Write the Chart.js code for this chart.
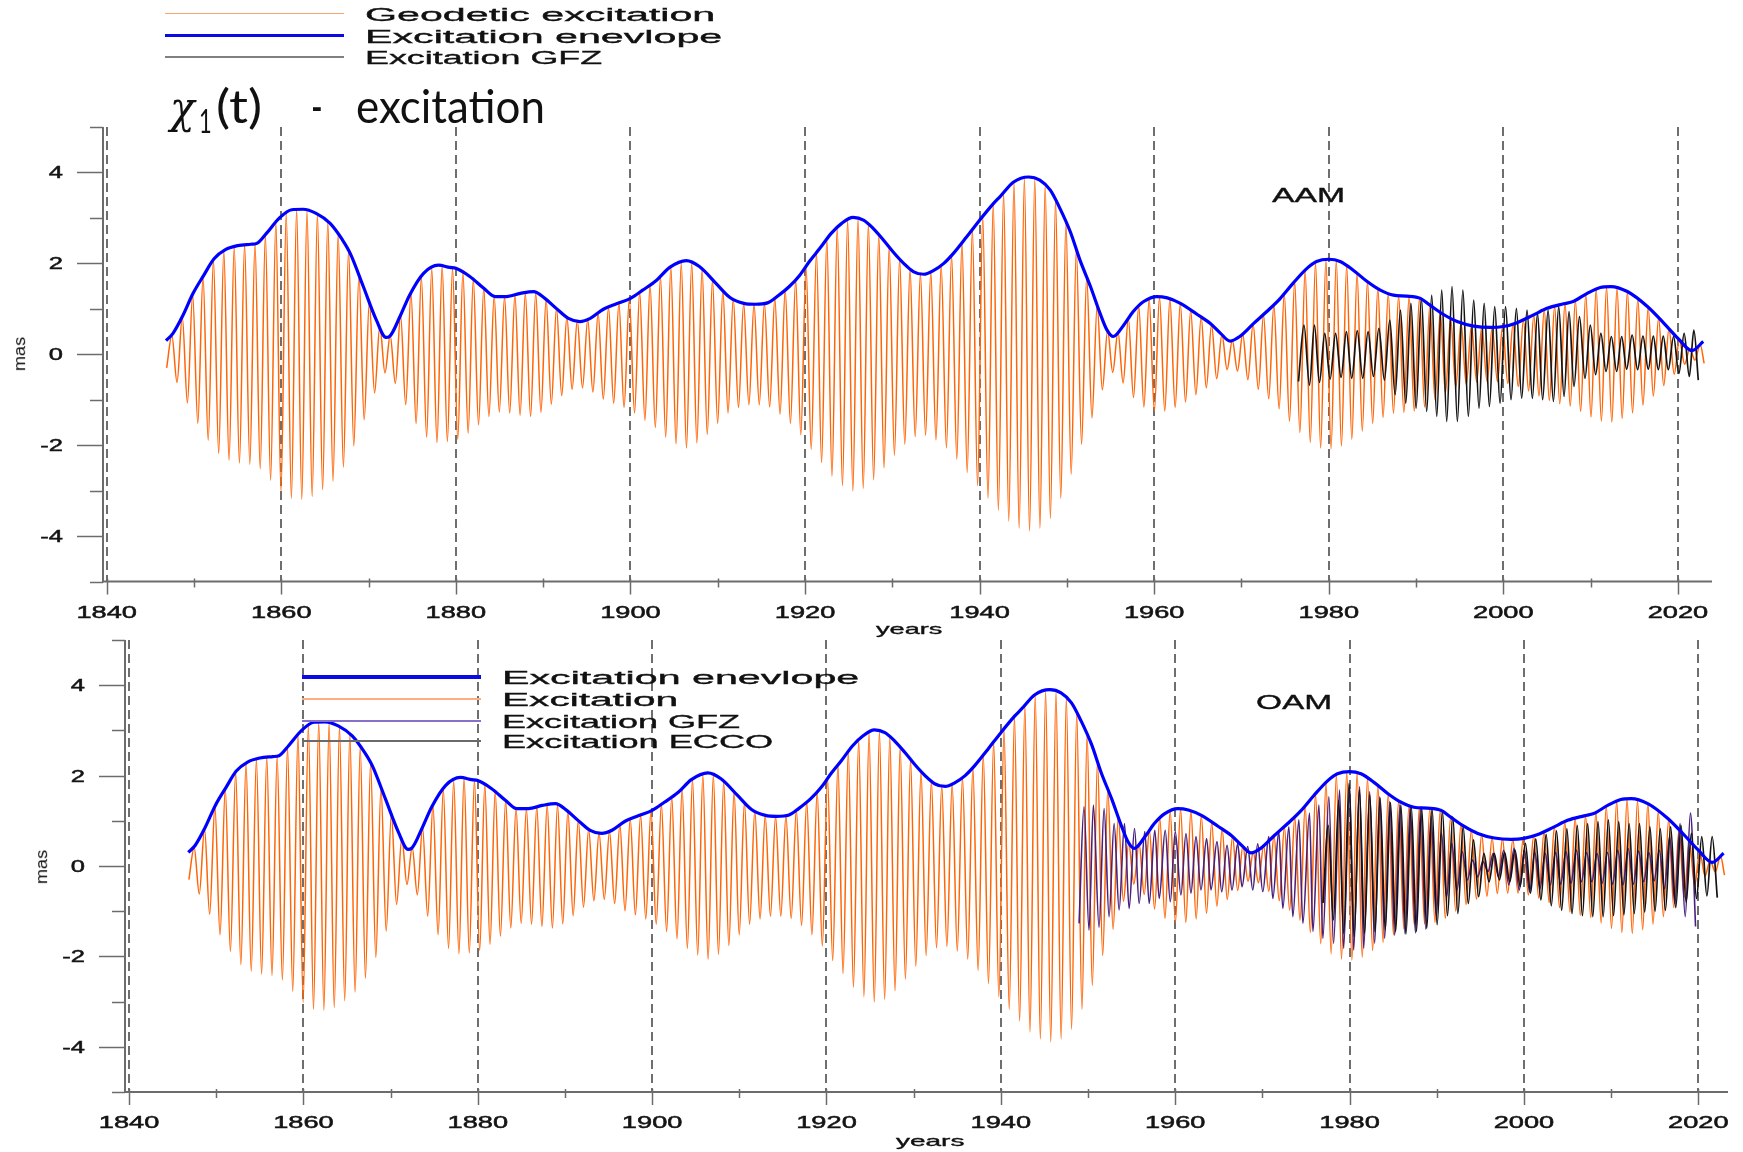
<!DOCTYPE html>
<html><head><meta charset="utf-8">
<script src="https://cdn.jsdelivr.net/npm/chart.js@4.4.1/dist/chart.umd.min.js"></script>
<style>
html,body{margin:0;padding:0;background:#fff;}
body{width:1743px;height:1152px;position:relative;overflow:hidden;font-family:"Liberation Sans",Arial,sans-serif;}
canvas{position:absolute;left:0;top:0;}
.t{position:absolute;white-space:pre;line-height:1;color:#111;}
.w{-webkit-text-stroke:0.35px #111;}
.ln{position:absolute;}
</style></head><body>
<canvas id="cTop" width="1743" height="1152"></canvas>
<canvas id="cBot" width="1743" height="1152"></canvas>
<script>
// ---------------- DATA ----------------
const xTickValues = [1840,1860,1880,1900,1920,1940,1960,1980,2000,2020];
const xMinorTickValues = [1850,1870,1890,1910,1930,1950,1970,1990,2010];
const yTickValues = [-4,-2,0,2,4];
const yMinorTickValues = [-5,-3,-1,1,3,5];

// geodetic excitation: successive extrema (same series in both panels)
const geoYears = [1846.87,1847.47,1848.06,1848.66,1849.25,1849.85,1850.44,1851.04,1851.63,1852.23,
1852.83,1853.42,1854.02,1854.61,1855.21,1855.80,1856.40,1856.99,1857.59,1858.18,
1858.78,1859.38,1859.97,1860.57,1861.16,1861.76,1862.35,1862.95,1863.54,1864.14,
1864.74,1865.33,1865.93,1866.52,1867.12,1867.71,1868.31,1868.90,1869.50,1870.09,
1870.69,1871.29,1871.88,1872.48,1873.07,1873.67,1874.26,1874.86,1875.45,1876.05,
1876.65,1877.24,1877.84,1878.43,1879.03,1879.62,1880.22,1880.81,1881.41,1882.00,
1882.60,1883.20,1883.79,1884.39,1884.98,1885.58,1886.17,1886.77,1887.36,1887.96,
1888.56,1889.15,1889.75,1890.34,1890.94,1891.53,1892.13,1892.72,1893.32,1893.91,
1894.51,1895.11,1895.70,1896.30,1896.89,1897.49,1898.08,1898.68,1899.27,1899.87,
1900.47,1901.06,1901.66,1902.25,1902.85,1903.44,1904.04,1904.63,1905.23,1905.82,
1906.42,1907.02,1907.61,1908.21,1908.80,1909.40,1909.99,1910.59,1911.18,1911.78,
1912.38,1912.97,1913.57,1914.16,1914.76,1915.35,1915.95,1916.54,1917.14,1917.73,
1918.33,1918.93,1919.52,1920.12,1920.71,1921.31,1921.90,1922.50,1923.09,1923.69,
1924.29,1924.88,1925.48,1926.07,1926.67,1927.26,1927.86,1928.45,1929.05,1929.64,
1930.24,1930.84,1931.43,1932.03,1932.62,1933.22,1933.81,1934.41,1935.00,1935.60,
1936.20,1936.79,1937.39,1937.98,1938.58,1939.17,1939.77,1940.36,1940.96,1941.56,
1942.15,1942.75,1943.34,1943.94,1944.53,1945.13,1945.72,1946.32,1946.91,1947.51,
1948.11,1948.70,1949.30,1949.89,1950.49,1951.08,1951.68,1952.27,1952.87,1953.47,
1954.06,1954.66,1955.25,1955.85,1956.44,1957.04,1957.63,1958.23,1958.82,1959.42,
1960.02,1960.61,1961.21,1961.80,1962.40,1962.99,1963.59,1964.18,1964.78,1965.38,
1965.97,1966.57,1967.16,1967.76,1968.35,1968.95,1969.54,1970.14,1970.73,1971.33,
1971.93,1972.52,1973.12,1973.71,1974.31,1974.90,1975.50,1976.09,1976.69,1977.29,
1977.88,1978.48,1979.07,1979.67,1980.26,1980.86,1981.45,1982.05,1982.64,1983.24,
1983.84,1984.43,1985.03,1985.62,1986.22,1986.81,1987.41,1988.00,1988.60,1989.20,
1989.79,1990.39,1990.98,1991.58,1992.17,1992.77,1993.36,1993.96,1994.55,1995.15,
1995.75,1996.34,1996.94,1997.53,1998.13,1998.72,1999.32,1999.91,2000.51,2001.11,
2001.70,2002.30,2002.89,2003.49,2004.08,2004.68,2005.27,2005.87,2006.46,2007.06,
2007.66,2008.25,2008.85,2009.44,2010.04,2010.63,2011.23,2011.82,2012.42,2013.02,
2013.61,2014.21,2014.80,2015.40,2015.99,2016.59,2017.18,2017.78,2018.37,2018.97,
2019.57,2020.16,2020.76,2021.35,2021.95,2022.54,2023.00];
const geoValues = [-0.30,0.41,-0.62,0.83,-1.07,1.32,-1.52,1.71,-1.89,2.08,
-2.18,2.27,-2.33,2.36,-2.39,2.41,-2.42,2.43,-2.52,2.62,
-2.77,2.90,-3.02,3.10,-3.17,3.18,-3.19,3.16,-3.13,3.08,
-2.98,2.92,-2.79,2.64,-2.48,2.28,-2.02,1.73,-1.44,1.15,
-0.85,0.62,-0.41,0.42,-0.64,0.86,-1.11,1.35,-1.52,1.70,
-1.82,1.88,-1.94,1.94,-1.92,1.90,-1.87,1.80,-1.73,1.65,
-1.55,1.45,-1.37,1.28,-1.27,1.27,-1.29,1.31,-1.34,1.35,
-1.37,1.35,-1.28,1.21,-1.10,1.01,-0.91,0.82,-0.77,0.74,
-0.74,0.77,-0.83,0.91,-0.99,1.04,-1.08,1.13,-1.17,1.22,
-1.29,1.37,-1.45,1.53,-1.61,1.71,-1.82,1.92,-1.97,2.01,
-2.06,2.01,-1.95,1.87,-1.76,1.64,-1.52,1.41,-1.29,1.22,
-1.17,1.12,-1.11,1.10,-1.11,1.12,-1.16,1.24,-1.32,1.42,
-1.52,1.64,-1.77,1.94,-2.09,2.24,-2.38,2.53,-2.68,2.79,
-2.89,2.95,-3.01,2.98,-2.95,2.86,-2.76,2.63,-2.50,2.36,
-2.22,2.10,-1.98,1.88,-1.81,1.78,-1.78,1.82,-1.88,1.96,
-2.06,2.18,-2.31,2.46,-2.60,2.75,-2.89,3.03,-3.17,3.31,
-3.43,3.55,-3.67,3.79,-3.83,3.87,-3.89,3.86,-3.83,3.72,
-3.61,3.39,-3.17,2.91,-2.64,2.31,-1.98,1.70,-1.40,1.08,
-0.78,0.52,-0.40,0.50,-0.63,0.79,-0.95,1.06,-1.16,1.21,
-1.25,1.26,-1.25,1.22,-1.17,1.12,-1.05,0.97,-0.89,0.82,
-0.74,0.65,-0.54,0.44,-0.34,0.31,-0.37,0.45,-0.56,0.67,
-0.77,0.87,-0.98,1.09,-1.20,1.33,-1.47,1.60,-1.72,1.85,
-1.94,2.02,-2.06,2.08,-2.08,2.06,-2.02,1.95,-1.87,1.78,
-1.69,1.60,-1.52,1.45,-1.39,1.34,-1.30,1.29,-1.28,1.27,
-1.25,1.23,-1.16,1.08,-1.00,0.92,-0.85,0.79,-0.73,0.70,
-0.67,0.63,-0.61,0.61,-0.60,0.59,-0.60,0.61,-0.64,0.67,
-0.71,0.76,-0.81,0.87,-0.92,0.98,-1.02,1.06,-1.09,1.12,
-1.14,1.19,-1.26,1.32,-1.38,1.43,-1.47,1.48,-1.49,1.45,
-1.41,1.38,-1.29,1.21,-1.12,1.03,-0.92,0.80,-0.69,0.56,
-0.44,0.32,-0.22,0.12,-0.13,0.22,-0.20];

// excitation envelope (same in both panels)
const envYears = [1846.8,1847.6,1848.7,1849.9,1851.1,1852.3,1853.6,1855.0,1856.5,1857.2,1858.3,1859.8,1861.2,1862.5,1864.0,1865.6,1867.0,1867.9,1869.4,1870.9,1872.0,1872.4,1873.6,1874.7,1876.3,1878.0,1879.3,1880.0,1881.6,1883.2,1884.5,1885.8,1887.4,1888.9,1890.2,1891.5,1892.9,1894.2,1895.4,1896.9,1898.4,1900.0,1901.4,1903.0,1904.5,1906.4,1907.9,1909.8,1911.4,1913.0,1914.3,1915.7,1916.8,1918.2,1919.4,1920.5,1921.7,1923.0,1924.2,1925.5,1926.7,1927.8,1929.0,1930.1,1931.3,1932.4,1933.6,1934.7,1935.9,1937.0,1938.5,1940.0,1941.6,1942.4,1943.9,1945.6,1946.9,1948.1,1949.2,1950.4,1951.5,1952.7,1953.8,1954.6,1955.3,1956.5,1957.6,1958.8,1960.3,1961.5,1963.0,1964.9,1966.4,1967.6,1968.7,1969.8,1971.4,1972.9,1974.4,1975.9,1977.5,1978.6,1980.0,1981.3,1982.8,1984.4,1985.9,1987.4,1988.9,1990.5,1991.6,1993.1,1994.7,1996.6,1998.5,2000.0,2001.5,2003.4,2005.0,2006.9,2008.0,2009.6,2011.1,2012.3,2014.2,2016.5,2018.4,2020.0,2021.6,2022.9];
const envValues = [0.30,0.46,0.84,1.34,1.73,2.10,2.30,2.39,2.42,2.44,2.66,3.00,3.18,3.19,3.10,2.88,2.52,2.22,1.49,0.75,0.37,0.39,0.83,1.30,1.78,1.96,1.91,1.89,1.71,1.45,1.27,1.27,1.34,1.38,1.23,1.01,0.79,0.72,0.79,0.99,1.11,1.23,1.41,1.63,1.91,2.06,1.93,1.56,1.25,1.12,1.10,1.13,1.27,1.49,1.74,2.04,2.33,2.66,2.88,3.01,2.95,2.77,2.51,2.25,2.00,1.82,1.76,1.84,2.00,2.22,2.58,2.95,3.32,3.48,3.79,3.90,3.83,3.61,3.21,2.69,2.07,1.49,0.90,0.53,0.39,0.64,0.94,1.16,1.27,1.24,1.12,0.88,0.68,0.46,0.29,0.39,0.68,0.94,1.22,1.56,1.89,2.04,2.09,2.04,1.85,1.60,1.41,1.30,1.28,1.23,1.08,0.88,0.72,0.62,0.59,0.61,0.69,0.86,1.01,1.11,1.16,1.34,1.47,1.49,1.38,1.05,0.68,0.35,0.08,0.28];

// GFZ excitation, AAM (top panel)
const gfzAamYears = [1976.53,1977.16,1977.79,1978.36,1978.93,1979.54,1980.15,1980.78,1981.41,1982.02,1982.63,1983.26,1983.89,1984.50,1985.11,1985.74,1986.37,1986.99,1987.60,1988.21,1988.82,1989.41,1990.00,1990.61,1991.22,1991.79,1992.37,1992.94,1993.51,1994.12,1994.73,1995.36,1995.99,1996.60,1997.21,1997.80,1998.40,1999.01,1999.62,2000.25,2000.88,2001.49,2002.10,2002.71,2003.32,2003.91,2004.50,2005.12,2005.73,2006.34,2006.95,2007.52,2008.09,2008.72,2009.35,2009.96,2010.57,2011.17,2011.76,2012.37,2012.98,2013.55,2014.12,2014.75,2015.38,2015.99,2016.60,2017.18,2017.75,2018.32,2018.89,2019.50,2020.11,2020.71,2021.30,2021.82,2022.33];
const gfzAamValues = [-0.60,0.64,-0.68,0.64,-0.62,0.46,-0.55,0.46,-0.51,0.50,-0.53,0.52,-0.53,0.50,-0.49,0.57,-0.57,0.75,-0.89,0.97,-1.08,1.12,-1.19,1.23,-1.26,1.30,-1.37,1.41,-1.48,1.49,-1.48,1.41,-1.37,1.19,-1.19,1.12,-1.15,1.05,-1.08,1.05,-1.00,1.01,-0.97,0.97,-0.97,0.90,-1.00,0.97,-1.04,1.05,-0.93,0.94,-0.71,0.83,-0.53,0.64,-0.45,0.46,-0.38,0.39,-0.38,0.39,-0.33,0.42,-0.34,0.40,-0.33,0.40,-0.34,0.40,-0.34,0.39,-0.42,0.46,-0.49,0.53,-0.57];

// GFZ excitation, OAM (bottom panel)
const gfzOamYears = [1948.97,1949.54,1950.11,1950.61,1951.26,1951.84,1952.41,1952.99,1953.56,1954.18,1954.71,1955.33,1955.86,1956.51,1957.01,1957.66,1958.16,1958.85,1959.43,1960.00,1960.65,1961.23,1961.80,1962.38,1962.95,1963.60,1964.10,1964.79,1965.33,1965.94,1966.51,1967.16,1967.66,1968.31,1968.89,1969.46,1970.04,1970.73,1971.19,1971.88,1972.34,1973.03,1973.49,1974.18,1974.64,1975.40,1975.79,1976.48,1976.93,1977.62,1978.16,1978.85,1979.31,1980.00,1980.46,1981.15,1981.61,1982.30,1982.87,1983.45,1984.02,1984.60,
1985.17,1985.77,1986.36,1986.96,1987.55,1988.15,1988.74,1989.34,1989.93,1990.53,1991.12,1991.72,1992.31,1992.91,1993.50,1994.10,1994.69,1995.29,1995.88,1996.48,1997.07,1997.67,1998.26,1998.86,1999.45,2000.05,2000.64,2001.24,2001.83,2002.43,2003.02,2003.62,2004.21,2004.81,2005.40,2006.00,2006.59,2007.19,2007.78,2008.38,2008.97,2009.57,2010.16,2010.76,2011.35,2011.95,2012.54,2013.14,2013.73,2014.33,2014.92,2015.52,2016.11,2016.71,2017.30,2017.90,2018.49,2019.09,2019.68];
const gfzOamValues = [-1.27,1.31,-1.42,1.35,-1.36,1.27,-1.12,0.94,-0.97,0.94,-0.94,0.83,-0.83,0.76,-0.83,0.79,-0.72,0.79,-0.79,0.76,-0.64,0.72,-0.60,0.65,-0.53,0.61,-0.53,0.54,-0.57,0.46,-0.53,0.49,-0.46,0.43,-0.53,0.49,-0.57,0.65,-0.72,0.76,-0.94,0.87,-1.12,1.02,-1.27,1.17,-1.45,1.35,-1.60,1.53,-1.71,1.68,-1.82,1.79,-1.86,1.75,-1.82,1.64,-1.71,1.53,-1.60,1.42,
-1.53,1.35,-1.50,1.30,-1.48,1.28,-1.40,1.10,-1.10,0.72,-0.68,0.50,-0.53,0.32,-0.31,0.13,-0.24,0.10,-0.12,0.28,-0.24,0.35,-0.42,0.39,-0.53,0.35,-0.57,0.30,-0.50,0.28,-0.42,0.30,-0.40,0.32,-0.38,0.35,-0.35,0.30,-0.35,0.28,-0.38,0.30,-0.40,0.35,-0.42,0.38,-0.40,0.33,-0.35,0.30,-0.33,0.35,-0.50,0.65,-0.83,0.94,-1.12,1.17,-1.34];

// ECCO excitation, OAM (bottom panel)
const eccoYears = [1976.95,1977.55,1978.14,1978.74,1979.33,1979.93,1980.52,1981.12,1981.71,1982.31,1982.90,1983.50,1984.09,1984.69,1985.28,1985.88,1986.47,1987.07,1987.66,1988.26,1988.85,1989.45,1990.04,1990.64,1991.23,1991.83,1992.42,1993.02,1993.61,1994.21,1994.80,1995.40,1995.99,1996.59,1997.18,1997.78,1998.37,1998.97,1999.56,2000.16,2000.75,2001.35,2001.94,2002.54,2003.13,2003.73,2004.32,2004.92,2005.51,2006.11,2006.70,2007.30,2007.89,2008.49,2009.08,2009.68,2010.27,2010.87,2011.46,2012.06,2012.65,2013.25,2013.84,2014.44,2015.03,2015.63,2016.22,2016.82,2017.41,2018.01,2018.60,2019.20,2019.79,2020.39,2020.98,2021.58,2022.17];
const eccoValues = [-0.82,0.90,-1.19,1.45,-1.49,1.83,-1.56,1.68,-1.49,1.57,-1.45,1.50,-1.41,1.40,-1.45,1.35,-1.50,1.32,-1.45,1.30,-1.38,1.28,-1.30,1.22,-1.10,1.09,-1.05,0.87,-0.83,0.58,-0.68,0.28,-0.35,0.28,-0.31,0.30,-0.35,0.35,-0.45,0.50,-0.60,0.60,-0.75,0.70,-0.88,0.78,-0.98,0.83,-1.05,0.90,-1.10,0.94,-1.12,0.98,-1.12,1.02,-1.10,0.98,-1.08,0.94,-1.05,0.94,-1.02,0.87,-1.00,0.83,-0.98,0.87,-0.92,0.90,-0.80,0.72,-0.72,0.65,-0.66,0.65,-0.70];

// ---------------- helpers ----------------
function toXY(xs, ys) {
  const n = Math.min(xs.length, ys.length), out = [];
  for (let i = 0; i < n; i++) out.push({x: xs[i], y: ys[i]});
  return out;
}

const COL_ORANGE = 'rgb(255,100,5)';
const COL_BLUE = '#0000ff';
const COL_AXIS = '#6c6c6c';
const COL_DASH = '#6e6e6e';
const COL_TEXT = '#141414';

// axes, ticks, dashed year lines and tick labels drawn through the chart's own scales
const panelDecor = {
  id: 'panelDecor',
  beforeDatasetsDraw(chart) {
    const {ctx, chartArea: a, scales: {x}} = chart;
    ctx.save();
    ctx.strokeStyle = COL_DASH; ctx.lineWidth = 2; ctx.setLineDash([9, 5]);
    xTickValues.forEach(v => {
      const px = Math.round(x.getPixelForValue(v));
      ctx.beginPath(); ctx.moveTo(px, a.top); ctx.lineTo(px, a.bottom); ctx.stroke();
    });
    ctx.restore();
  },
  afterDatasetsDraw(chart) {
    const {ctx, chartArea: a, scales: {x, y}} = chart;
    ctx.save();
    ctx.strokeStyle = COL_AXIS; ctx.lineWidth = 2; ctx.setLineDash([]);
    ctx.beginPath(); ctx.moveTo(a.left, a.top); ctx.lineTo(a.left, a.bottom + 1); ctx.stroke();
    ctx.beginPath(); ctx.moveTo(a.left - 1, a.bottom); ctx.lineTo(a.right, a.bottom); ctx.stroke();
    ctx.lineWidth = 1.5;
    yTickValues.forEach(v => { const py = Math.round(y.getPixelForValue(v)) + 0.5; ctx.beginPath(); ctx.moveTo(a.left - 26, py); ctx.lineTo(a.left, py); ctx.stroke(); });
    yMinorTickValues.forEach(v => { const py = Math.round(y.getPixelForValue(v)) + 0.5; ctx.beginPath(); ctx.moveTo(a.left - 13, py); ctx.lineTo(a.left, py); ctx.stroke(); });
    xTickValues.forEach(v => { const px = Math.round(x.getPixelForValue(v)) + 0.5; ctx.beginPath(); ctx.moveTo(px, a.bottom - 3); ctx.lineTo(px, a.bottom + 13); ctx.stroke(); });
    xMinorTickValues.forEach(v => { const px = Math.round(x.getPixelForValue(v)) + 0.5; ctx.beginPath(); ctx.moveTo(px, a.bottom - 3); ctx.lineTo(px, a.bottom + 6); ctx.stroke(); });
    ctx.fillStyle = COL_TEXT; ctx.strokeStyle = COL_TEXT; ctx.lineWidth = 0.5;
    ctx.font = '17px "Liberation Sans", Arial, sans-serif';
    ctx.textBaseline = 'alphabetic';
    ctx.textAlign = 'right';
    yTickValues.forEach(v => {
      const py = y.getPixelForValue(v);
      ctx.save(); ctx.translate(a.left - 40, py + 6); ctx.scale(1.5, 1); ctx.fillText(String(v), 0, 0); ctx.strokeText(String(v), 0, 0); ctx.restore();
    });
    ctx.textAlign = 'center';
    xTickValues.forEach(v => {
      const px = x.getPixelForValue(v);
      ctx.save(); ctx.translate(px, a.bottom + 36); ctx.scale(1.6, 1); ctx.fillText(String(v), 0, 0); ctx.strokeText(String(v), 0, 0); ctx.restore();
    });
    ctx.restore();
  }
};

function baseOptions(pad, xmin, xmax) {
  return {
    responsive: false, animation: false, devicePixelRatio: 1,
    layout: {padding: pad},
    parsing: false, normalized: true,
    elements: {point: {radius: 0}, line: {cubicInterpolationMode: 'monotone'}},
    scales: {
      x: {type: 'linear', min: xmin, max: xmax, display: false},
      y: {type: 'linear', min: -5, max: 5, display: false}
    },
    plugins: {legend: {display: false}, tooltip: {enabled: false}, title: {display: false}}
  };
}

// ---------------- top panel: AAM ----------------
new Chart(document.getElementById('cTop'), {
  type: 'line',
  data: {datasets: [
    {label: 'Geodetic excitation', data: toXY(geoYears, geoValues), borderColor: COL_ORANGE, borderWidth: 1.5, order: 3},
    {label: 'Excitation GFZ', data: toXY(gfzAamYears, gfzAamValues), borderColor: '#141414', borderWidth: 1.7, order: 2},
    {label: 'Excitation enevlope', data: toXY(envYears, envValues), borderColor: COL_BLUE, borderWidth: 3.2, order: 1}
  ]},
  options: baseOptions({left: 103, top: 127, right: 31, bottom: 570.5}, 1839.58, 2023.9),
  plugins: [panelDecor]
});

// ---------------- bottom panel: OAM ----------------
new Chart(document.getElementById('cBot'), {
  type: 'line',
  data: {datasets: [
    {label: 'Excitation', data: toXY(geoYears, geoValues), borderColor: COL_ORANGE, borderWidth: 1.5, order: 4},
    {label: 'Excitation GFZ', data: toXY(gfzOamYears, gfzOamValues), borderColor: 'rgb(72,32,125)', borderWidth: 1.6, order: 3},
    {label: 'Excitation ECCO', data: toXY(eccoYears, eccoValues), borderColor: '#121212', borderWidth: 1.7, order: 2},
    {label: 'Excitation enevlope', data: toXY(envYears, envValues), borderColor: COL_BLUE, borderWidth: 3.2, order: 1}
  ]},
  options: baseOptions({left: 125, top: 640, right: 15, bottom: 60}, 1839.54, 2023.4),
  plugins: [panelDecor]
});

// ---------------- text & legends ----------------
function addText(str, o) {
  const el = document.createElement('div');
  el.className = 't' + (o.bold ? ' w' : '');
  el.textContent = str;
  el.style.font = `${o.fstyle || 'normal'} normal ${o.size}px ${o.font || '"Liberation Sans", Arial, sans-serif'}`;
  if (o.color) el.style.color = o.color;
  document.body.appendChild(el);
  const natW = el.offsetWidth;
  const sx = o.width ? o.width / natW : 1;
  const asc = o.asc != null ? o.asc : 0.8465;
  if (o.rotate) {
    el.style.left = (o.cx - natW / 2) + 'px';
    el.style.top = (o.cy - o.size / 2) + 'px';
    el.style.transformOrigin = '50% 50%';
    el.style.transform = `rotate(${o.rotate}deg) scaleX(${sx})`;
  } else {
    el.style.left = o.x + 'px';
    el.style.top = (o.baseline - asc * o.size) + 'px';
    el.style.transformOrigin = '0 0';
    el.style.transform = `scaleX(${sx})`;
  }
  return el;
}
function addLine(x1, x2, y, w, color) {
  const d = document.createElement('div');
  d.className = 'ln';
  d.style.left = x1 + 'px'; d.style.top = (y - w / 2) + 'px';
  d.style.width = (x2 - x1) + 'px'; d.style.height = w + 'px';
  d.style.background = color;
  document.body.appendChild(d);
}

// top legend
addLine(165, 344, 13.5, 1.6, 'rgb(249,165,110)');
addLine(165, 344, 35.8, 3.4, '#0a0ae6');
addLine(165, 344, 56.8, 1.6, '#808080');
addText('Geodetic excitation', {x: 365, baseline: 20, size: 18, width: 350, bold: true});
addText('Excitation enevlope', {x: 365, baseline: 42.3, size: 18, width: 357, bold: true});
addText('Excitation GFZ', {x: 365, baseline: 63.3, size: 18, width: 237, bold: true});

// title
const LATO = 'Lato, "Open Sans", sans-serif';
addText('\u03C7', {x: 170, baseline: 119, size: 44, width: 25, font: '"DejaVu Serif", serif', fstyle: 'italic', asc: 0.85});
addText('1', {x: 199, baseline: 129, size: 32, width: 13, font: LATO, asc: 0.887});
addText('(t)', {x: 216, baseline: 119, size: 46, width: 46, font: LATO, asc: 0.887});
addText('-', {x: 311, baseline: 119, size: 50, width: 12, font: LATO, asc: 0.887});
addText('excitation', {x: 356, baseline: 119, size: 46, width: 189, font: LATO, asc: 0.887});

// top panel labels
addText('AAM', {x: 1272, baseline: 201, size: 21, width: 74, bold: true});
addText('mas', {cx: 20, cy: 353, size: 16, width: 34, rotate: -90});
addText('years', {x: 876, baseline: 633, size: 15, width: 67, bold: true});

// bottom panel labels
addText('OAM', {x: 1256, baseline: 708, size: 20, width: 77, bold: true});
addText('mas', {cx: 42, cy: 866, size: 16, width: 34, rotate: -90});
addText('years', {x: 896, baseline: 1145, size: 15, width: 69, bold: true});

// bottom legend
addLine(302, 481, 677, 3.4, '#0a0ae6');
addLine(302, 481, 699, 2, 'rgb(250,175,125)');
addLine(302, 481, 721, 1.6, 'rgb(135,112,200)');
addLine(302, 481, 741, 1.6, '#6a6a6a');
addText('Excitation enevlope', {x: 502, baseline: 683.5, size: 18, width: 357, bold: true});
addText('Excitation', {x: 502, baseline: 705.5, size: 18, width: 176, bold: true});
addText('Excitation GFZ', {x: 502, baseline: 727.5, size: 18, width: 238, bold: true});
addText('Excitation ECCO', {x: 502, baseline: 747.5, size: 18, width: 271, bold: true});
</script>
</body></html>
